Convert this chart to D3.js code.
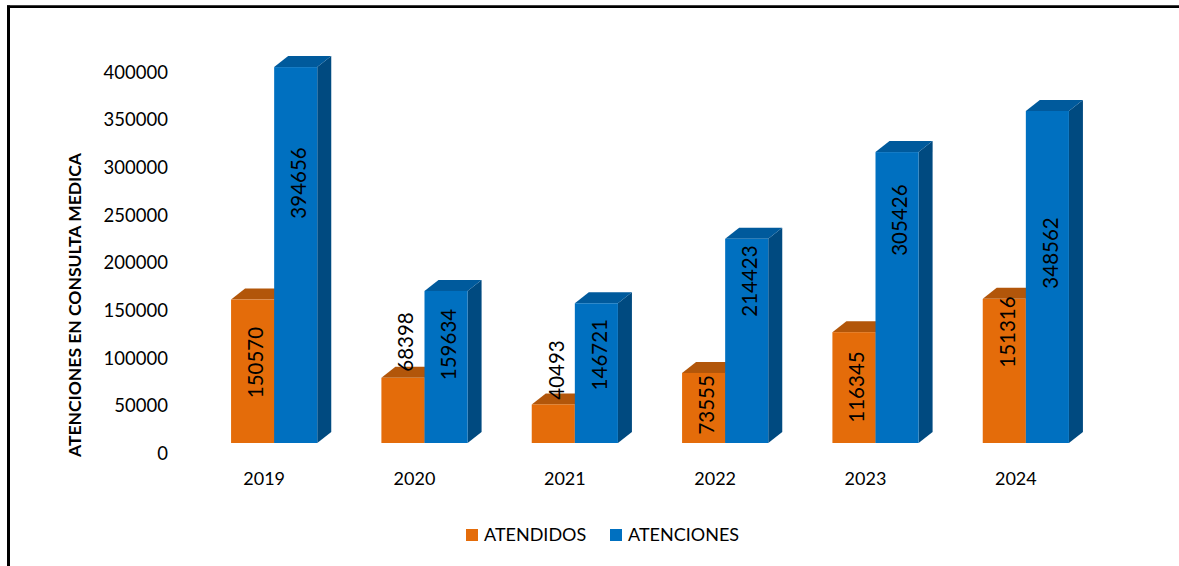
<!DOCTYPE html>
<html>
<head>
<meta charset="utf-8">
<script src="https://cdn.jsdelivr.net/npm/d3@7"></script>
<style>
  html, body { margin: 0; padding: 0; background: #fff; }
  svg { display: block; }
  text { font-family: Lato, "Liberation Sans", sans-serif; fill: #000; }
</style>
</head>
<body>
<svg id="chart" width="1179" height="566"></svg>
<script>
// ---- data ----
const years = ["2019", "2020", "2021", "2022", "2023", "2024"];
const atendidos = [150570, 68398, 40493, 73555, 116345, 151316];
const atenciones = [394656, 159634, 146721, 214423, 305426, 348562];
// where each data label sits, in value units
const atendidosLabelAt = [84500, 106000, 76600, 40000, 58800, 116500];
const atencionesLabelAt = [273000, 103400, 92700, 170000, 234000, 199500];
const yTicks = [0, 50000, 100000, 150000, 200000, 250000, 300000, 350000, 400000];
const seriesNames = ["ATENDIDOS", "ATENCIONES"];
const yTitle = "ATENCIONES EN CONSULTA MEDICA";

const colors = {
  ATENDIDOS: { front: "#E46C0A", top: "#B2560A", side: "#9E4C08" },
  ATENCIONES: { front: "#0070C0", top: "#005A9C", side: "#004A80" }
};

const svg = d3.select("#chart");
const W = 1179, H = 566;

// frame
svg.append("line").attr("x1", 8.5).attr("x2", 8.5).attr("y1", 5.5).attr("y2", H)
  .attr("stroke", "#000").attr("stroke-width", 3);
svg.append("line").attr("x1", 7).attr("x2", W).attr("y1", 6.7).attr("y2", 6.7)
  .attr("stroke", "#000").attr("stroke-width", 2.7);

// scales
const x = d3.scaleBand().domain(years).range([199, 1101])
  .paddingInner(0.4267).paddingOuter(0.2133);
const xs = d3.scaleBand().domain(seriesNames).range([0, x.bandwidth()]).padding(0);
const y = d3.scaleLinear().domain([0, 400000]).range([443, 62]);
const DX = 14, DY = 11;

// y axis labels (back-wall offset)
const yAxis = d3.axisLeft(y).tickValues(yTicks).tickSize(0).tickPadding(0)
  .tickFormat(d3.format("d"));
const ga = svg.append("g").attr("transform", "translate(168,10)").call(yAxis);
ga.select(".domain").remove();
ga.selectAll("text").attr("font-size", 18.5).attr("font-family", "Lato, sans-serif")
  .attr("fill", "#000").attr("dy", "0.34em");

// axis title
svg.append("text").attr("transform", "translate(80.5,305) rotate(-90)")
  .attr("text-anchor", "middle").attr("font-weight", "bold").attr("font-size", 17.5)
  .text(yTitle);

// bars
const rows = years.map((yr, i) => ({
  year: yr,
  vals: [
    { s: "ATENDIDOS", v: atendidos[i], lab: atendidosLabelAt[i] },
    { s: "ATENCIONES", v: atenciones[i], lab: atencionesLabelAt[i] }
  ]
}));

const barsG = svg.append("g");
rows.forEach(r => {
  r.vals.forEach(d => {
    const x0 = x(r.year) + xs(d.s), x1 = x0 + xs.bandwidth();
    const yt = y(d.v), yb = y(0);
    const c = colors[d.s];
    // side
    barsG.append("path")
      .attr("d", `M${x1},${yb} L${x1 + DX},${yb - DY} L${x1 + DX},${yt - DY} L${x1},${yt} Z`)
      .attr("fill", c.side);
    // top
    barsG.append("path")
      .attr("d", `M${x0},${yt} L${x0 + DX},${yt - DY} L${x1 + DX},${yt - DY} L${x1},${yt} Z`)
      .attr("fill", c.top);
    // front
    barsG.append("rect").attr("x", x0).attr("y", yt).attr("width", x1 - x0).attr("height", yb - yt)
      .attr("fill", c.front);
  });
});

// data labels
const labG = svg.append("g");
rows.forEach(r => {
  r.vals.forEach(d => {
    const cx = x(r.year) + xs(d.s) + xs.bandwidth() / 2 + 3;
    const cy = y(d.lab);
    labG.append("text").attr("transform", `translate(${cx},${cy}) rotate(-90)`)
      .attr("text-anchor", "middle").attr("dy", "0.36em").attr("font-size", 20.5)
      .text(d.v);
  });
});

// year labels
svg.append("g").selectAll("text").data(years).join("text")
  .attr("x", d => x(d) + x.bandwidth() / 2 - 10).attr("y", 485)
  .attr("text-anchor", "middle").attr("font-size", 18).text(d => d);

// legend
const legend = svg.append("g");
const legX = [466, 610];
seriesNames.forEach((s, i) => {
  legend.append("rect").attr("x", legX[i]).attr("y", 529).attr("width", 12).attr("height", 12)
    .attr("fill", colors[s].front);
  legend.append("text").attr("x", legX[i] + 18).attr("y", 541).attr("font-size", 18).text(s);
});
</script>
</body>
</html>
